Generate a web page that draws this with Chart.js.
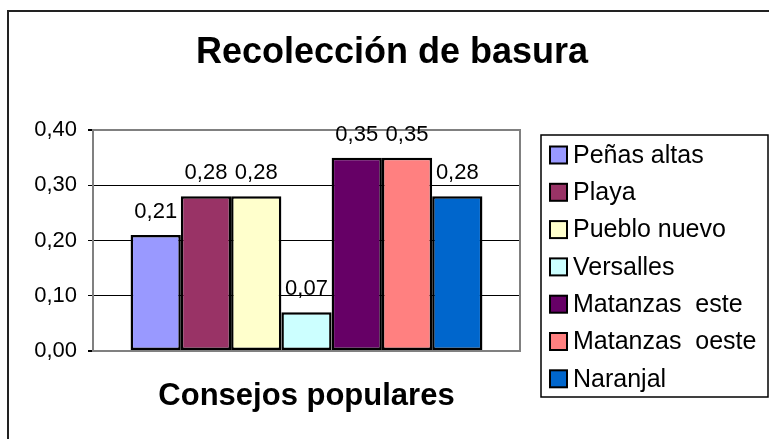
<!DOCTYPE html>
<html>
<head>
<meta charset="utf-8">
<title>Recolección de basura</title>
<script src="https://cdn.jsdelivr.net/npm/chart.js@4"></script>
<style>
    body{ margin:0; background:#fff; }
    #wrap{ width:769px; height:439px; }
</style>
</head>
<body>
<div id="wrap"><canvas id="basura" width="769" height="439"></canvas></div>
<script>
// ===== data =====
let consejos = ['Peñas altas','Playa','Pueblo nuevo','Versalles','Matanzas  este','Matanzas  oeste','Naranjal'];
let valores = [0.21,0.28,0.28,0.07,0.35,0.35,0.28];
let colores = ['#9999FF','#993366','#FFFFCC','#CCFFFF','#660066','#FF8080','#0066CC'];
let yTicks = [0,0.1,0.2,0.3,0.4];
let titulo = 'Recolección de basura';
let tituloX = 'Consejos populares';

const fuente = "'Liberation Sans', Arial, sans-serif";
const coma = v => Number(v).toFixed(2).replace('.', ',');

// ===== custom drawing (title, frame, labels, legend) =====
const marco = {
    id: 'marco',
    beforeDraw(chart){
        const c = chart.ctx;
        c.save();
        c.fillStyle = '#fff';
        c.fillRect(0, 0, chart.width, chart.height);
        // outer chart border
        c.strokeStyle = '#222';
        c.lineWidth = 2;
        c.beginPath();
        c.moveTo(8, chart.height);
        c.lineTo(8, 11);
        c.lineTo(chart.width, 11);
        c.stroke();
        // title
        c.fillStyle = '#000';
        c.font = 'bold 36px ' + fuente;
        c.textAlign = 'center';
        c.textBaseline = 'alphabetic';
        c.fillText(titulo, 392, 63);
        c.restore();
    },
    beforeDatasetsDraw(chart){
        const a = chart.chartArea, c = chart.ctx;
        c.save();
        c.strokeStyle = '#808080';
        c.lineWidth = 2;
        c.strokeRect(a.left, a.top, a.right - a.left, a.bottom - a.top);
        c.restore();
    },
    afterDatasetsDraw(chart){
        const c = chart.ctx;
        c.save();
        c.fillStyle = '#000';
        c.font = '22px ' + fuente;
        c.textAlign = 'center';
        c.textBaseline = 'alphabetic';
        chart.data.datasets.forEach((ds, i) => {
            const bar = chart.getDatasetMeta(i).data[0];
            c.fillText(coma(ds.data[0]), bar.x, bar.y - 17);
        });
        c.restore();
    },
    afterDraw(chart){
        const c = chart.ctx;
        c.save();
        c.strokeStyle = '#000';
        c.lineWidth = 1.5;
        c.strokeRect(541, 135, 227, 262);
        c.font = '25px ' + fuente;
        c.textAlign = 'left';
        c.textBaseline = 'middle';
        chart.data.datasets.forEach((ds, i) => {
            const y = 155 + i * 37.3;
            c.fillStyle = ds.backgroundColor;
            c.fillRect(550, y - 8.5, 17, 17);
            c.lineWidth = 2;
            c.strokeRect(550, y - 8.5, 17, 17);
            c.fillStyle = '#000';
            c.fillText(ds.label, 573, y + 1);
        });
        c.restore();
    }
};

// ===== chart =====
const ctx = document.getElementById('basura').getContext('2d');
const grafico = new Chart(ctx, {
    type: 'bar',
    data: {
        labels: [''],
        datasets: consejos.map((nombre, i) => ({
            label: nombre,
            data: [valores[i]],
            backgroundColor: colores[i],
            borderColor: '#000',
            borderWidth: 2.5,
            borderSkipped: false,
            categoryPercentage: 0.824,
            barPercentage: 1
        }))
    },
    options: {
        responsive: false,
        animation: false,
        layout: {
            padding: {left: 0, top: 130, right: 249, bottom: 24}
        },
        plugins: {
            legend: {display: false},
            title: {display: false},
            tooltip: {enabled: false}
        },
        scales: {
            x: {
                grid: {display: false, drawTicks: false},
                border: {display: false},
                ticks: {display: false},
                title: {
                    display: true,
                    text: tituloX,
                    color: '#000',
                    font: {family: fuente, size: 31, weight: 'bold', lineHeight: '38px'},
                    padding: {top: 26, bottom: 0}
                }
            },
            y: {
                min: yTicks[0],
                max: yTicks[yTicks.length - 1],
                afterFit: s => { s.width = 93; },
                afterBuildTicks: s => { s.ticks = yTicks.map(v => ({value: v})); },
                ticks: {
                    color: '#000',
                    padding: 11,
                    font: {family: fuente, size: 22},
                    callback: v => coma(v)
                },
                grid: {
                    color: g => (g.tick && (g.tick.value === 0 || g.tick.value >= 0.399)) ? '#808080' : '#000',
                    lineWidth: g => (g.tick && (g.tick.value === 0 || g.tick.value >= 0.399)) ? 2 : 1,
                    tickColor: '#000',
                    tickLength: 5
                },
                border: {display: false}
            }
        }
    },
    plugins: [marco]
});
</script>
</body>
</html>
